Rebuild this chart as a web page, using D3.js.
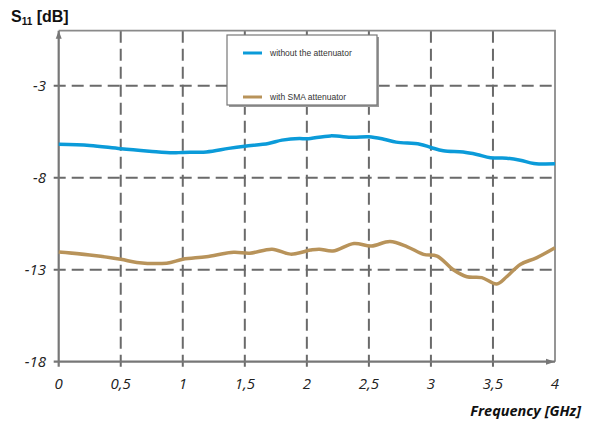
<!DOCTYPE html>
<html>
<head>
<meta charset="utf-8">
<script src="https://cdn.jsdelivr.net/npm/d3@7"></script>
<style>
  body { margin: 0; background: #fff; }
  svg { display: block; }
</style>
</head>
<body>
<svg id="chart" width="589" height="423"></svg>
<script>
// frequency [GHz] and S11 [dB]
var freqBlue = [0, 0.25, 0.5, 0.73, 0.92, 1.0, 1.19, 1.37, 1.5, 1.69, 1.8, 1.94, 2.0, 2.19, 2.37, 2.5, 2.62, 2.72, 2.91, 3.0, 3.1, 3.26, 3.37, 3.48, 3.61, 3.72, 3.83, 4.0];
var s11Blue  = [-6.18, -6.24, -6.42, -6.55, -6.64, -6.62, -6.59, -6.4, -6.28, -6.13, -5.95, -5.86, -5.88, -5.72, -5.8, -5.77, -5.9, -6.06, -6.17, -6.35, -6.53, -6.6, -6.73, -6.91, -6.93, -7.04, -7.22, -7.24];

var freqBrown = [0, 0.25, 0.5, 0.63, 0.87, 1.0, 1.19, 1.41, 1.54, 1.72, 1.87, 2.03, 2.1, 2.21, 2.38, 2.52, 2.67, 2.81, 2.94, 3.05, 3.18, 3.29, 3.41, 3.53, 3.61, 3.72, 3.85, 4.0];
var s11Brown  = [-12.04, -12.2, -12.43, -12.6, -12.64, -12.43, -12.29, -12.05, -12.1, -11.88, -12.15, -11.93, -11.88, -11.98, -11.57, -11.71, -11.46, -11.75, -12.16, -12.26, -13.0, -13.38, -13.43, -13.77, -13.38, -12.71, -12.35, -11.8];

var xTicks = [0, 0.5, 1, 1.5, 2, 2.5, 3, 3.5, 4];
var xTickLabels = ["0", "0,5", "1", "1,5", "2", "2,5", "3", "3,5", "4"];
var yTicks = [-18, -13, -8, -3];

var seriesNames = ["without the attenuator", "with SMA attenuator"];
var seriesColors = ["#0b9bd9", "#b8935a"];

var svg = d3.select("#chart");

var x = d3.scaleLinear().domain([0, 4]).range([58.7, 555]);
var y = d3.scaleLinear().domain([-18, 0]).range([361.7, 30.7]);

// grid
var grid = svg.append("g");
grid.selectAll(".vgrid")
  .data(xTicks.filter(function(d){ return d > 0 && d < 4; }))
  .enter().append("line")
  .attr("x1", function(d){ return x(d); })
  .attr("x2", function(d){ return x(d); })
  .attr("y1", y(0)).attr("y2", y(-18) + 5)
  .attr("stroke", "#6a6a6a").attr("stroke-width", 2)
  .attr("stroke-dasharray", "12,6");
grid.selectAll(".hgrid")
  .data(yTicks.filter(function(d){ return d > -18; }))
  .enter().append("line")
  .attr("x1", x(0) - 5).attr("x2", x(4))
  .attr("y1", function(d){ return y(d); })
  .attr("y2", function(d){ return y(d); })
  .attr("stroke", "#6a6a6a").attr("stroke-width", 2)
  .attr("stroke-dasharray", "12,6");

// frame top and right
svg.append("path")
  .attr("d", "M" + x(0) + "," + y(0) + "H" + x(4) + "V" + y(-18))
  .attr("fill", "none").attr("stroke", "#8a8a8a").attr("stroke-width", 1.8);

// axes
var axisColor = "#777";
svg.append("line")
  .attr("x1", x(0)).attr("x2", x(0)).attr("y1", y(-18) + 5).attr("y2", y(0))
  .attr("stroke", axisColor).attr("stroke-width", 2.2);
svg.append("line")
  .attr("x1", x(0) - 5).attr("x2", x(4)).attr("y1", y(-18)).attr("y2", y(-18))
  .attr("stroke", axisColor).attr("stroke-width", 2.2);
// arrow heads
svg.append("path")
  .attr("d", "M" + (x(0) - 3) + "," + (y(0) + 8) + "L" + x(0) + "," + y(0) + "L" + (x(0) + 3) + "," + (y(0) + 8) + "Z")
  .attr("fill", axisColor);
svg.append("path")
  .attr("d", "M" + (x(4) - 9) + "," + (y(-18) - 3) + "L" + x(4) + "," + y(-18) + "L" + (x(4) - 9) + "," + (y(-18) + 3) + "Z")
  .attr("fill", axisColor);

// tick labels
svg.selectAll(".ylab")
  .data(yTicks)
  .enter().append("text")
  .attr("x", 46).attr("y", function(d){ return y(d); })
  .attr("dy", "0.36em")
  .attr("text-anchor", "end")
  .style("font", "italic 15px 'Open Sans', sans-serif")
  .attr("fill", "#222")
  .text(function(d){ return d; });

svg.selectAll(".xlab")
  .data(xTicks)
  .enter().append("text")
  .attr("x", function(d){ return x(d); })
  .attr("y", 384)
  .attr("dy", "0.36em")
  .attr("text-anchor", "middle")
  .style("font", "italic 15px 'Open Sans', sans-serif")
  .attr("fill", "#222")
  .text(function(d, i){ return xTickLabels[i]; });

// axis titles
svg.append("text")
  .attr("x", 581).attr("y", 416)
  .attr("text-anchor", "end")
  .style("font", "italic bold 14.5px 'Open Sans', sans-serif")
  .attr("fill", "#111")
  .text("Frequency [GHz]");

var yTitle = svg.append("text")
  .attr("x", 11).attr("y", 22)
  .style("font", "bold 16px 'Liberation Sans', Arial, sans-serif")
  .attr("fill", "#111");
yTitle.append("tspan").text("S");
yTitle.append("tspan").attr("dy", 3).style("font-size", "10px").text("11");
yTitle.append("tspan").attr("dy", -3).text(" [dB]");

// curves
var line = d3.line()
  .x(function(d){ return x(d[0]); })
  .y(function(d){ return y(d[1]); })
  .curve(d3.curveCatmullRom.alpha(0.5));

var blue = d3.zip(freqBlue, s11Blue);
var brown = d3.zip(freqBrown, s11Brown);

svg.append("path").datum(brown)
  .attr("d", line).attr("fill", "none")
  .attr("stroke", seriesColors[1]).attr("stroke-width", 3.5);
svg.append("path").datum(blue)
  .attr("d", line).attr("fill", "none")
  .attr("stroke", seriesColors[0]).attr("stroke-width", 3.5);

// legend
var lg = svg.append("g");
lg.append("rect")
  .attr("x", 229).attr("y", 37).attr("width", 150).attr("height", 70)
  .attr("fill", "#999");
lg.append("rect")
  .attr("x", 227).attr("y", 35).attr("width", 150).attr("height", 70)
  .attr("fill", "#fff").attr("stroke", "#777").attr("stroke-width", 1.2);
var legY = [53, 97];
lg.selectAll(".li")
  .data(seriesNames)
  .enter().append("line")
  .attr("x1", 243).attr("x2", 262)
  .attr("y1", function(d, i){ return legY[i]; })
  .attr("y2", function(d, i){ return legY[i]; })
  .attr("stroke", function(d, i){ return seriesColors[i]; })
  .attr("stroke-width", 3);
lg.selectAll(".lt")
  .data(seriesNames)
  .enter().append("text")
  .attr("x", 270)
  .attr("y", function(d, i){ return legY[i]; })
  .attr("dy", "0.35em")
  .style("font", "8.5px 'Liberation Sans', Arial, sans-serif")
  .attr("fill", "#333")
  .text(function(d){ return d; });
</script>
</body>
</html>
